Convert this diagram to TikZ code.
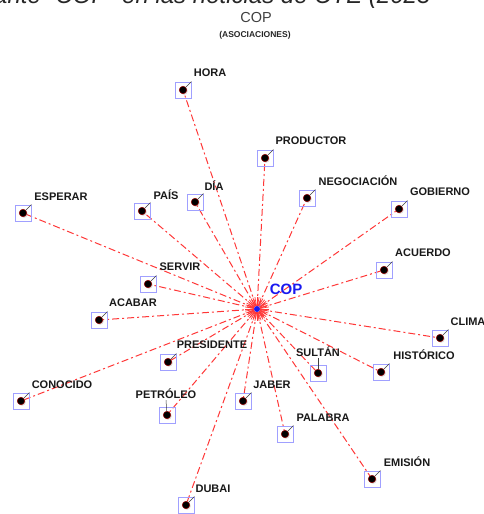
\documentclass[tikz,border=0pt]{standalone}
\usepackage{fontspec}
\setmainfont{Liberation Sans}
\usetikzlibrary{backgrounds,shadows}
\definecolor{linkred}{RGB}{255,55,55}
\definecolor{boxblue}{RGB}{160,160,255}
\definecolor{copblue}{RGB}{25,25,240}
\tikzset{
  wbox/.style={draw=boxblue, line width=0.8pt, minimum size=16pt, inner sep=0pt},
  wdot/.style={circle, fill=black, draw=red!60!black, line width=0.5pt, minimum size=7.5pt, inner sep=0pt,
    drop shadow={shadow xshift=1pt, shadow yshift=-1pt, opacity=0.3}},
  wtick/.style={draw=black!75, line width=0.5pt},
  wlabel/.style={font=\fontsize{11}{11}\selectfont\bfseries, text=black!90, inner sep=1pt},
  link/.style={draw=linkred, line width=1pt, dash pattern=on 7pt off 3pt on 2pt off 3pt},
}

\begin{document}
\begin{tikzpicture}[x=1pt,y=-1pt]

\useasboundingbox (0,0) rectangle (484,514);
\clip (0,0) rectangle (484,514);

% titles
\node[anchor=base west, inner sep=0pt, font=\fontsize{24}{24}\selectfont\itshape, text=black!85] (head) at (-6,3) {ante “COP” en las noticias de CTE (2023};
\node[font=\fontsize{14.5}{14.5}\selectfont, text=black!75] (title) at (256,18) {COP};
\node[font=\fontsize{8.5}{8.5}\selectfont\bfseries, text=black!85] (subtitle) at (255,35) {(ASOCIACIONES)};

% centre word
\node[circle, fill=copblue, minimum size=6pt, inner sep=0pt] (cop) at (257,309) {};
\node[font=\fontsize{15}{15}\selectfont\bfseries, text=copblue] (cop-l) at (286,289) {COP};

% associated words: name / box x / box y / label x / label y / tick end / text
\foreach \n/\x/\y/\lx/\ly/\tk/\t in {
  hora/183/90/210/73/b.north east/HORA,
  productor/265/158/311/141/b.north east/PRODUCTOR,
  dia/195/202/214/186/b.north east/DÍA,
  pais/142/211/166/195/b.north east/PAÍS,
  negociacion/307/198/358/181/b.north east/NEGOCIACIÓN,
  gobierno/399/209/440/192/b.north east/GOBIERNO,
  esperar/23/213/61/197/b.north east/ESPERAR,
  acuerdo/384/270/423/253/b.north east/ACUERDO,
  servir/148/284/180/267/b.north east/SERVIR,
  acabar/99/320/133/303/b.north east/ACABAR,
  clima/440/338/468/322/b.north east/CLIMA,
  presidente/168/362/212/345/b.north east/PRESIDENTE,
  historico/381/372/424/355/b.north east/HISTÓRICO,
  sultan/318/373/318/352/l.south/SULTÁN,
  conocido/21/401/62/385/b.north east/CONOCIDO,
  petroleo/167/415/166/394/l.south/PETRÓLEO,
  jaber/243/401/272/385/b.north east/JABER,
  palabra/285/434/323/418/b.north east/PALABRA,
  emision/372/479/407/462/b.north east/EMISIÓN,
  dubai/186/505/213/489/b.north east/DUBAI}{
  \node[wbox] (\n-b) at (\x,\y) {};
  \node[wdot] (\n) at (\n-b) {};
  \node[wlabel] (\n-l) at (\lx,\ly) {\t};
  \draw[wtick] (\n) -- (\n-\tk);
}

\begin{pgfonlayer}{background}
\foreach \n in {hora,productor,dia,pais,negociacion,gobierno,esperar,acuerdo,servir,acabar,
  clima,presidente,historico,sultan,conocido,petroleo,jaber,palabra,emision,dubai}
  \draw[link] (cop) -- (\n);
% red burst round the centre
\foreach \a in {0,10,...,350}
  \draw[linkred, line width=0.7pt] (cop) -- ++(\a:12);
\end{pgfonlayer}
\draw[copblue!60, line width=0.5pt, shorten >=9pt] (cop) -- (cop-l.south west);

\end{tikzpicture}
\end{document}
